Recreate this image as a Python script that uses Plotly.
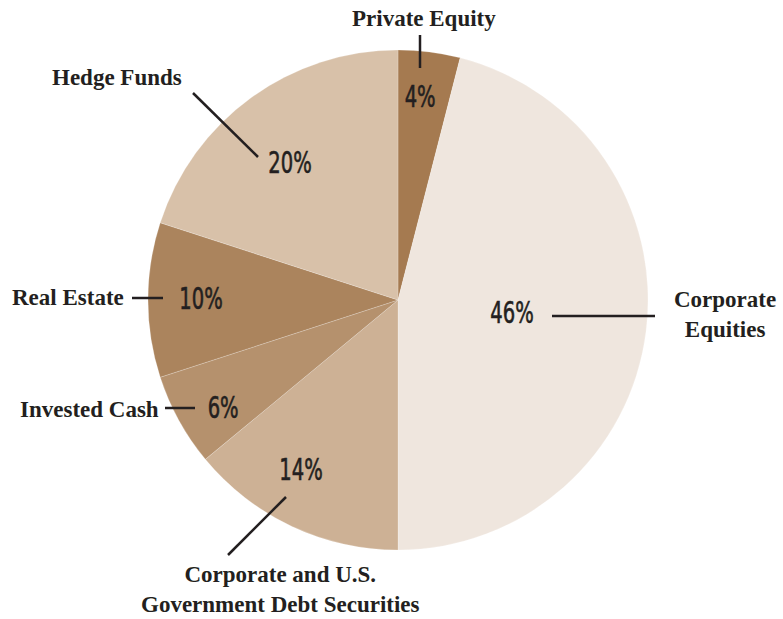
import math
import plotly.graph_objects as go

# ---- data ----
categories = ["Private Equity", "Corporate Equities", "Corporate and U.S. Government Debt Securities",
              "Invested Cash", "Real Estate", "Hedge Funds"]
values = [4, 46, 14, 6, 10, 20]
pct_labels = ["4%", "46%", "14%", "6%", "10%", "20%"]
outer_labels = ["Private Equity", "Corporate<br>Equities", "Corporate and U.S.<br>Government Debt Securities",
                "Invested Cash", "Real Estate", "Hedge Funds"]

# ---- style ----
colors = ["#A57A50", "#EFE6DE", "#CDB195", "#B5916D", "#AB845D", "#D8C1A9"]
W, H = 783, 619
CX, CY, R = 398, 300, 250

# percent label placement: (angle clockwise from top in deg, radius fraction)
pct_pos = [(6.2, 0.82), (95.9, 0.46), (210, 0.78), (238.7, 0.82), (270.5, 0.79), (322, 0.70)]
# outer label placement (pixels): x, y, xanchor
outer_pos = [(424, 19, "center"), (725, 314, "center"), (280, 589, "center"),
             (161, 409, "right"), (126, 298, "right"), (117, 78, "center")]
# leader lines (pixels)
leaders = [((420, 35), (420, 68)), ((552, 316), (655, 316)), ((228, 555), (286, 497)),
           ((165, 408), (195, 408)), ((132, 298), (163, 298)), ((193, 93), (258, 157))]

PCT_FONT = "DejaVu Sans Condensed, DejaVu Sans"


def px(x):
    return x / W


def py(y):
    return 1 - y / H


fig = go.Figure(go.Pie(
    labels=categories, values=values, sort=False, direction="clockwise", rotation=0,
    marker=dict(colors=colors, line=dict(color="rgba(255,255,255,0.35)", width=0.6)),
    textinfo="none", hoverinfo="label+percent", showlegend=False,
    domain=dict(x=[px(CX - R), px(CX + R)], y=[py(CY + R), py(CY - R)]),
))

annotations = []
for txt, (ang, fr) in zip(pct_labels, pct_pos):
    a = math.radians(ang)
    x = CX + fr * R * math.sin(a)
    y = CY - fr * R * math.cos(a)
    annotations.append(dict(x=px(x), y=py(y), xref="paper", yref="paper", text=txt, showarrow=False,
                            xanchor="center", yanchor="middle",
                            font=dict(family=PCT_FONT, size=31, color="#231F20")))
for txt, (x, y, xa) in zip(outer_labels, outer_pos):
    annotations.append(dict(x=px(x), y=py(y), xref="paper", yref="paper", text=txt, showarrow=False,
                            xanchor=xa, yanchor="middle", align="center",
                            font=dict(family="Liberation Serif, Times New Roman, serif", size=23,
                                      color="#231F20", weight="bold")))

shapes = []
for (x0, y0), (x1, y1) in leaders:
    shapes.append(dict(type="line", xref="paper", yref="paper", x0=px(x0), y0=py(y0), x1=px(x1), y1=py(y1),
                       line=dict(color="#231F20", width=2.5)))

fig.update_layout(width=W, height=H, margin=dict(l=0, r=0, t=0, b=0),
                  paper_bgcolor="white", plot_bgcolor="white",
                  annotations=annotations, shapes=shapes)

post = """
document.body.style.margin = '0';
document.body.style.overflow = 'hidden';
document.querySelectorAll('text.annotation-text').forEach(function(el){
  if ((el.style.fontFamily || '').indexOf('Condensed') >= 0) {
    var w = el.getComputedTextLength();
    el.setAttribute('lengthAdjust', 'spacingAndGlyphs');
    el.setAttribute('textLength', (w * 0.7).toFixed(1));
    el.style.stroke = '#231F20';
    el.style.strokeWidth = '0.6px';
  }
});
"""
fig.write_html("out.html", post_script=post, config={"displayModeBar": False})
